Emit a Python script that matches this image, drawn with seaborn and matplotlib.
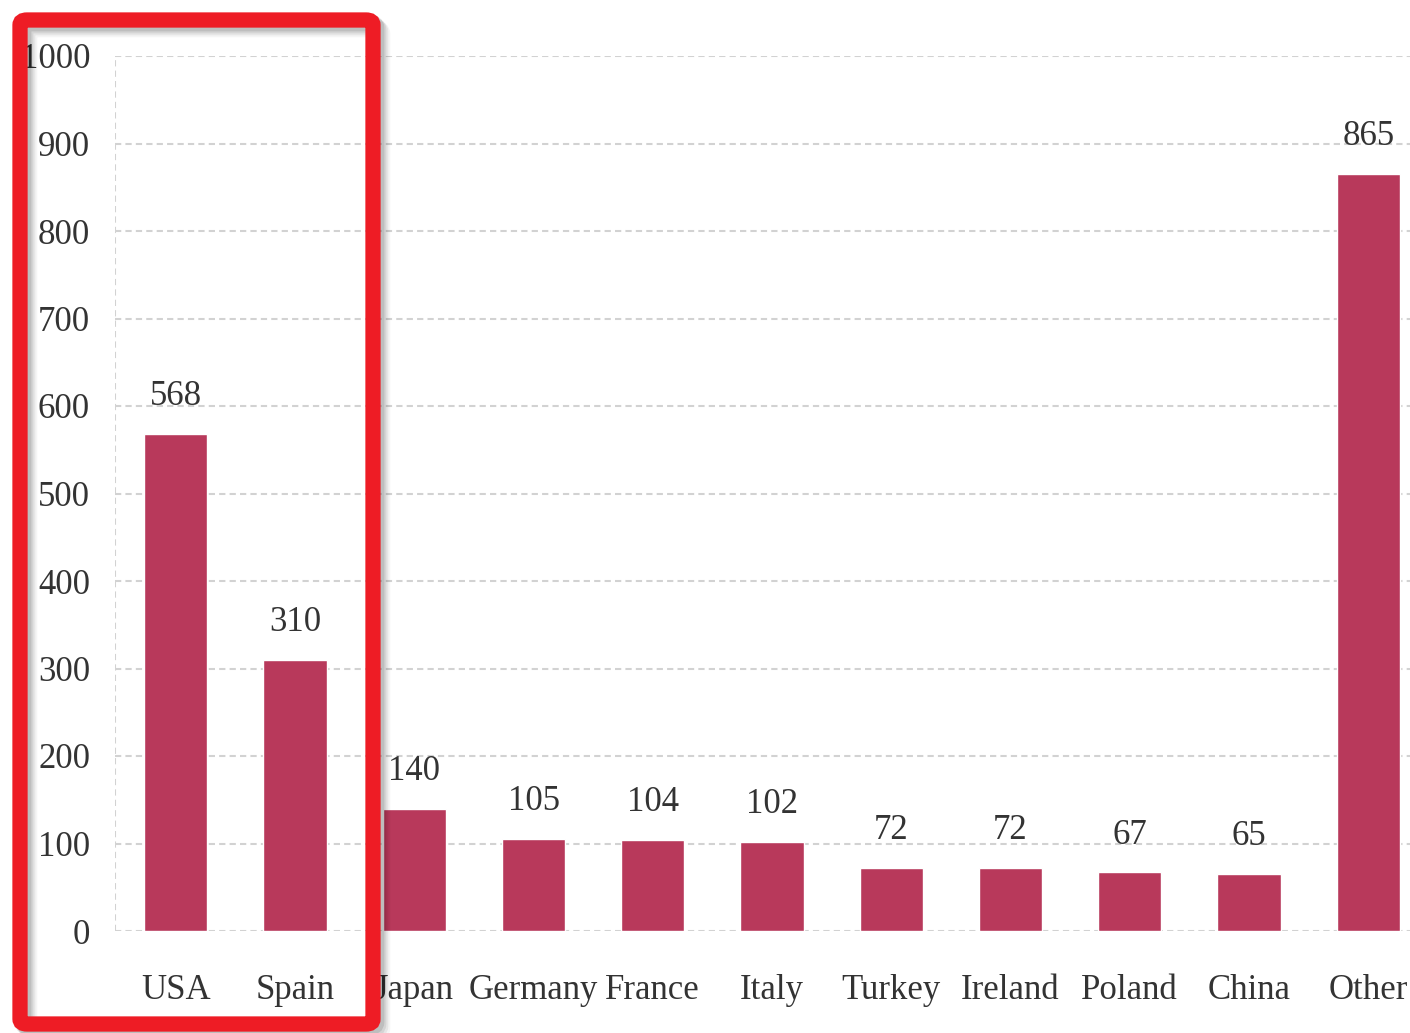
import matplotlib
matplotlib.use("Agg")
import matplotlib.pyplot as plt
import seaborn as sns
import pandas as pd
from matplotlib.patches import FancyBboxPatch

countries = ["USA", "Spain", "Japan", "Germany", "France", "Italy",
             "Turkey", "Ireland", "Poland", "China", "Other"]
values = [568, 310, 140, 105, 104, 102, 72, 72, 67, 65, 865]
y_ticks = [0, 100, 200, 300, 400, 500, 600, 700, 800, 900, 1000]

sns.set_theme(style="white")
plt.rcParams['font.family'] = ['Liberation Serif', 'DejaVu Serif', 'DejaVu Sans']

df = pd.DataFrame({"country": countries, "value": values})

fig = plt.figure(figsize=(14.10, 10.33), dpi=100)
ax = fig.add_axes([115/1410, 102/1033, 1 - 115/1410, (931-56)/1033])

bar_color = "#B8395B"
sns.barplot(data=df, x="country", y="value", color=bar_color, width=0.53,
            saturation=1, ax=ax, zorder=3)

ax.set_xlim(-0.51, 10.35)
ax.set_ylim(0, 1000)
ax.set_yticks(y_ticks)
ax.set_xlabel("")
ax.set_ylabel("")

for s in ax.spines.values():
    s.set_visible(False)

ax.yaxis.grid(True, color="#d2d2d2", linestyle=(0, (3, 2)), linewidth=1.5, zorder=0)
ax.axvline(-0.51, color="#d2d2d2", linestyle=(0, (3, 2)), linewidth=1.5, zorder=0)

ax.tick_params(axis="y", length=0, pad=18, labelsize=25, labelcolor="#333333")
ax.tick_params(axis="x", length=0, pad=31, labelsize=25, labelcolor="#333333")

for i, v in enumerate(values):
    ax.annotate(str(v), (i, v), xytext=(0, 15), textcoords="offset points",
                ha="center", va="bottom", fontsize=25, color="#333333")

# highlight rectangle with shadow
for k, a in enumerate([0.10, 0.08, 0.06, 0.04]):
    off = 3 + k * 2
    sh = FancyBboxPatch((20/1410 + off/1410, 9/1033 - off/1033), 353/1410, 1004/1033,
                        boxstyle="round,pad=0,rounding_size=0.005",
                        transform=fig.transFigure, fill=False,
                        edgecolor="black", linewidth=12, alpha=a, zorder=9)
    fig.add_artist(sh)
rect = FancyBboxPatch((20/1410, 9/1033), 353/1410, 1004/1033,
                      boxstyle="round,pad=0,rounding_size=0.005",
                      transform=fig.transFigure, fill=False,
                      edgecolor="#EE1C25", linewidth=11, zorder=10)
fig.add_artist(rect)

fig.savefig("out.png", dpi=100)
